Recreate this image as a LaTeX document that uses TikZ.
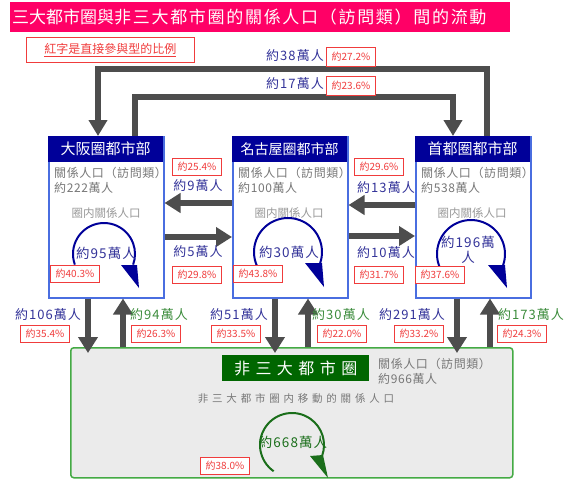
\documentclass[tikz,border=0pt]{standalone}
\usepackage{fontspec}
\setmainfont{Noto Sans CJK TC}
\newfontfamily\lsfont[LetterSpace=8]{Noto Sans CJK TC}
\newfontfamily\lsinfo[LetterSpace=5]{Noto Sans CJK TC}
\newfontfamily\lswide[LetterSpace=34]{Noto Sans CJK TC}
\newfontfamily\lsmid[LetterSpace=36]{Noto Sans CJK TC}
\newfontfamily\lstitle[LetterSpace=10]{Noto Sans CJK TC}
\usetikzlibrary{arrows.meta}
\definecolor{navy}{HTML}{000099}
\definecolor{boxblue}{HTML}{4A6EE0}
\definecolor{arrowgray}{HTML}{4D4D4D}
\definecolor{lblblue}{HTML}{333399}
\definecolor{lblgreen}{HTML}{3C8C3C}
\definecolor{pctred}{HTML}{F03C3C}
\definecolor{titlepink}{HTML}{FF0066}
\definecolor{bigfill}{HTML}{EBEBEB}
\definecolor{bigborder}{HTML}{44AA44}
\definecolor{darkgreen}{HTML}{006600}
\definecolor{arcgreen}{HTML}{1A6E1A}
\definecolor{txtgray}{HTML}{777777}
\definecolor{ltgray}{HTML}{999999}
\tikzset{
  fatarrow/.style={draw=arrowgray, line width=6.5pt, -{Triangle[length=16pt,width=19pt]}},
  toparrow/.style={draw=arrowgray, line width=5.5pt, -{Triangle[length=16pt,width=18pt]}},
  pct/.style={draw=pctred, line width=0.8pt, fill=white, text=pctred, font=\fontsize{10}{12}\selectfont, minimum width=49pt, minimum height=17pt, inner sep=1pt},
  bluelbl/.style={text=lblblue, font=\lsfont\fontsize{13}{15}\selectfont, inner sep=0pt},
  greenlbl/.style={text=lblgreen, font=\lsfont\fontsize{13}{15}\selectfont, inner sep=0pt},
  metrobox/.style={draw=boxblue, line width=1.5pt, fill=white, minimum width=115pt, minimum height=161pt, anchor=north west, inner sep=0pt},
  titlebar/.style={fill=navy, text=white, minimum width=115pt, minimum height=26pt, anchor=north west, inner sep=0pt},
  infotext/.style={text=txtgray, font=\lsinfo\fontsize{12}{15}\selectfont, align=left, anchor=north west, inner sep=0pt},
  subtext/.style={text=ltgray, font=\fontsize{11.5}{14}\selectfont, inner sep=0pt},
  circtext/.style={text=lblblue, font=\lsfont\fontsize{13.5}{15}\selectfont, inner sep=0pt, align=center},
  navyarc/.style={draw=navy, line width=2pt},
  greenarc/.style={draw=arcgreen, line width=2pt}
}
\begin{document}
\begin{tikzpicture}[x=1pt,y=1pt]
\useasboundingbox (0,0) rectangle (576,-480);
% title
\node[fill=titlepink, minimum width=500pt, minimum height=30pt, anchor=north west, inner sep=0pt] (title) at (10,-2) {};
\node[anchor=west, text=white, inner sep=0pt] (titletext) at (12,-17) {\fontsize{17}{19}\selectfont 三大都市圈與{\lstitle 非三大都市圈的關係人口（訪問類）間的流動}};
% note
\node[draw=pctred, line width=0.8pt, minimum width=168pt, minimum height=25pt, anchor=north west, inner sep=0pt, text=pctred, font=\fontsize{12}{14}\selectfont] (note) at (26,-37) {\underline{紅字是直接參與型的比例}};

% metro boxes
\node[metrobox] (osaka) at (48,-136) {};
\node[titlebar, font=\fontsize{15}{17}\selectfont] (osakaT) at (osaka.north west) {大阪圈都市部};
\node[metrobox] (nagoya) at (232,-136) {};
\node[titlebar, font=\fontsize{14}{16}\selectfont] (nagoyaT) at (nagoya.north west) {名古屋圈都市部};
\node[metrobox] (tokyo) at (415,-136) {};
\node[titlebar, font=\fontsize{15}{17}\selectfont] (tokyoT) at (tokyo.north west) {首都圈都市部};

\node[infotext] (osakaI) at (54,-167) {關係人口（訪問類）\\約222萬人};
\node[infotext] (nagoyaI) at (238,-167) {關係人口（訪問類）\\約100萬人};
\node[infotext] (tokyoI) at (421,-167) {關係人口（訪問類）\\約538萬人};
\node[subtext] (osakaS) at (106,-213) {圈内關係人口};
\node[subtext] (nagoyaS) at (289,-213) {圈内關係人口};
\node[subtext] (tokyoS) at (472,-213) {圈内關係人口};

% circular arrows
\draw[navyarc] (104,-254) ++(200:31) arc[start angle=200, end angle=-20, radius=31];
\fill[navy] (121,-265) -- (137,-265) -- (139,-288) -- cycle;
\node[circtext] (osakaC) at (106,-253) {約95萬人};
\draw[navyarc] (288,-252) ++(205:34) arc[start angle=205, end angle=-20, radius=34];
\fill[navy] (305,-263) -- (322,-263) -- (324,-287) -- cycle;
\node[circtext] (nagoyaC) at (289,-252) {約30萬人};
\draw[navyarc] (471,-254) ++(205:34) arc[start angle=205, end angle=-20, radius=34];
\fill[navy] (488,-265) -- (505,-265) -- (507,-288) -- cycle;
\node[circtext] (tokyoC) at (468,-250) {約196萬\\人};

\node[pct] (p403) at (75,-274) {約40.3\%};
\node[pct] (p438) at (258,-274) {約43.8\%};
\node[pct] (p376) at (440,-275) {約37.6\%};

% big box
\node[draw=bigborder, fill=bigfill, line width=1.5pt, rounded corners=3pt, minimum width=442pt, minimum height=130pt, anchor=north west, inner sep=0pt] (big) at (70,-347) {};
\node[fill=darkgreen, text=white, minimum width=147pt, minimum height=26pt, anchor=north west, inner sep=0pt, font=\lswide\fontsize{16}{18}\selectfont] (bigT) at (222,-355) {非三大都市圈};
\node[infotext] (bigI) at (378,-358) {關係人口（訪問類）\\約966萬人};
\node[text=txtgray, inner sep=0pt, font=\lsmid\fontsize{10.5}{12}\selectfont] (bigS) at (296,-398) {非三大都市圈内移動的關係人口};
\draw[greenarc] (292,-445) ++(235:32) arc[start angle=235, end angle=-20, radius=32];
\fill[arcgreen] (310,-456) -- (323,-455) -- (328,-478) -- cycle;
\node[text=arcgreen, inner sep=0pt, font=\lsfont\fontsize{13.5}{15}\selectfont] (bigC) at (293,-442) {約668萬人};
\node[pct] (p380) at (225,-466) {約38.0\%};

% horizontal arrows
\draw[fatarrow] (nagoya.west |- 0,-203) -- (osaka.east |- 0,-203);
\draw[fatarrow] (osaka.east |- 0,-237) -- (nagoya.west |- 0,-237);
\draw[fatarrow] (tokyo.west |- 0,-205) -- (nagoya.east |- 0,-205);
\draw[fatarrow] (nagoya.east |- 0,-236) -- (tokyo.west |- 0,-236);
\node[pct] (p254) at (197,-167) {約25.4\%};
\node[bluelbl] (l9) at (198,-186) {約9萬人};
\node[bluelbl] (l5) at (198,-252) {約5萬人};
\node[pct] (p298) at (197,-275) {約29.8\%};
\node[pct] (p296) at (379,-167) {約29.6\%};
\node[bluelbl] (l13) at (386,-188) {約13萬人};
\node[bluelbl] (l10) at (386,-253) {約10萬人};
\node[pct] (p317) at (379,-275) {約31.7\%};

% top arrows
\draw[toparrow] (487,0 |- tokyo.north) -- (487,-69) -| (98,0 |- osaka.north);
\draw[toparrow] (135,0 |- osaka.north) -- (135,-97) -| (453,0 |- tokyo.north);
\node[bluelbl, anchor=east] (l38) at (324,-56) {約38萬人};
\node[pct, inner sep=0pt, minimum height=19pt] (p272) at (351,-57) {約27.2\%};
\node[bluelbl, anchor=east] (l17) at (324,-84) {約17萬人};
\node[pct, inner sep=0pt, minimum height=19pt] (p236) at (351,-86) {約23.6\%};

% vertical arrows
\draw[fatarrow, shorten >=-6pt] (88,0 |- osaka.south) -- (88,0 |- big.north);
\draw[fatarrow] (123,0 |- big.north) -- (123,0 |- osaka.south);
\draw[fatarrow, shorten >=-6pt] (275,0 |- nagoya.south) -- (275,0 |- big.north);
\draw[fatarrow] (308,0 |- big.north) -- (308,0 |- nagoya.south);
\draw[fatarrow, shorten >=-6pt] (457,0 |- tokyo.south) -- (457,0 |- big.north);
\draw[fatarrow] (490,0 |- big.north) -- (490,0 |- tokyo.south);

\node[bluelbl] (l106) at (48,-315) {約106萬人};
\node[pct] (p354) at (45,-334) {約35.4\%};
\node[greenlbl] (l94) at (159,-315) {約94萬人};
\node[pct] (p263) at (156,-334) {約26.3\%};
\node[bluelbl] (l51) at (239,-315) {約51萬人};
\node[pct] (p335) at (236,-334) {約33.5\%};
\node[greenlbl] (l30) at (341,-315) {約30萬人};
\node[pct] (p220) at (342,-334) {約22.0\%};
\node[bluelbl] (l291) at (412,-315) {約291萬人};
\node[pct] (p332) at (419,-334) {約33.2\%};
\node[greenlbl] (l173) at (531,-315) {約173萬人};
\node[pct] (p243) at (522,-334) {約24.3\%};
\end{tikzpicture}
\end{document}
